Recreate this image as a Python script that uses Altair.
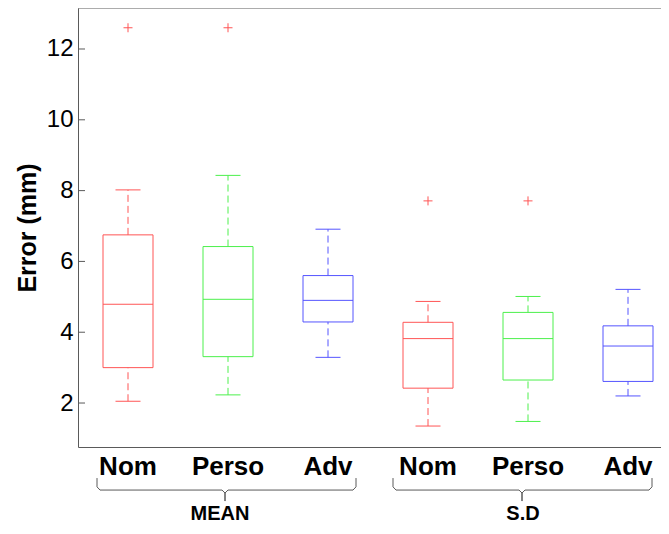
import altair as alt
import pandas as pd

# ---- data ----
positions = [1, 2, 3, 4, 5, 6]
conds = ["Nom", "Perso", "Adv", "Nom", "Perso", "Adv"]
lower = [2.05, 2.23, 3.29, 1.35, 1.48, 2.20]
q1 = [3.00, 3.31, 4.29, 2.42, 2.65, 2.61]
median = [4.79, 4.93, 4.90, 3.82, 3.82, 3.61]
q3 = [6.75, 6.42, 5.60, 4.28, 4.56, 4.18]
upper = [8.02, 8.43, 6.91, 4.87, 5.01, 5.21]

out_pos = [1, 2, 4, 5]
out_val = [12.6, 12.6, 7.71, 7.71]

y_ticks = [2, 4, 6, 8, 10, 12]
groups = ["MEAN", "S.D"]
group_label_x = [1.92, 4.95]
brace_left = [0.69, 3.65]
brace_tip = [1.97, 4.94]
brace_right = [3.28, 6.24]

cond_domain = ["Nom", "Perso", "Adv"]
cond_colors = ["#FF5555", "#4CF04C", "#5555FF"]
OUTLIER_COLOR = "#FF5555"

Y_DOMAIN = [0.758, 13.158]
X_DOMAIN = [0.5, 6.33]
PW, PH = 583, 439
FRAME = "#5a5a5a"
FONT = "Liberation Sans"

box_df = pd.DataFrame({"pos": positions, "cond": conds, "lower": lower, "q1": q1,
                       "median": median, "q3": q3, "upper": upper})
out_df = pd.DataFrame({"pos": out_pos, "val": out_val})
tick_df = pd.DataFrame({"t": y_ticks})

# brace polylines (x in data units, y in data units below the axis range)
brace_rows = []
y_top, y_mid, y_curl, y_tip = -0.119, -0.458, -0.542, -0.769
c = 0.03
for g, l, t, r in zip(groups, brace_left, brace_tip, brace_right):
    pts = [(l, y_top), (l, y_mid + 0.09), (l + c, y_mid), (t - c, y_mid), (t, y_curl), (t, y_tip),
           (t, y_curl), (t + c, y_mid), (r - c, y_mid), (r, y_mid + 0.09), (r, y_top)]
    for i, (px, py) in enumerate(pts):
        brace_rows.append({"g": g, "o": i, "bx": px, "by": py})
brace_df = pd.DataFrame(brace_rows)
group_df = pd.DataFrame({"g": groups, "gx": group_label_x})

xs = alt.Scale(domain=X_DOMAIN, nice=False, zero=False)
ys = alt.Scale(domain=Y_DOMAIN, nice=False, zero=False)
col = alt.Color("cond:N", scale=alt.Scale(domain=cond_domain, range=cond_colors), legend=None)

base = alt.Chart(box_df).transform_calculate(
    lo="datum.pos - 0.25", hi="datum.pos + 0.25",
    clo="datum.pos - 0.125", chi="datum.pos + 0.125")

xaxis = alt.Axis(labels=False, ticks=False, title=None, grid=False,
                 domainColor=FRAME, domainWidth=1)
yaxis = alt.Axis(values=y_ticks, ticks=False, tickSize=0, grid=False,
                 labelFontSize=24, labelFont=FONT, labelColor="black", labelPadding=5,
                 domainColor=FRAME, domainWidth=1,
                 title="Error (mm)", titleFont=FONT, titleFontSize=25, titleFontWeight="bold",
                 titleColor="black", titleAngle=-90, titleX=-51, titleY=219.5,
                 titleAlign="center", titleBaseline="middle")

boxes = base.mark_rect(filled=False, strokeWidth=1).encode(
    x=alt.X("lo:Q", scale=xs, axis=xaxis), x2="hi:Q",
    y=alt.Y("q1:Q", scale=ys, axis=yaxis), y2="q3:Q",
    stroke=col)
medians = base.mark_rule(strokeWidth=1).encode(
    x=alt.X("lo:Q", scale=xs), x2="hi:Q", y=alt.Y("median:Q", scale=ys), color=col)
wh_up = base.mark_rule(strokeWidth=1, strokeDash=[7, 4]).encode(
    x=alt.X("pos:Q", scale=xs), y=alt.Y("q3:Q", scale=ys), y2="upper:Q", color=col)
wh_lo = base.mark_rule(strokeWidth=1, strokeDash=[7, 4]).encode(
    x=alt.X("pos:Q", scale=xs), y=alt.Y("lower:Q", scale=ys), y2="q1:Q", color=col)
cap_up = base.mark_rule(strokeWidth=1).encode(
    x=alt.X("clo:Q", scale=xs), x2="chi:Q", y=alt.Y("upper:Q", scale=ys), color=col)
cap_lo = base.mark_rule(strokeWidth=1).encode(
    x=alt.X("clo:Q", scale=xs), x2="chi:Q", y=alt.Y("lower:Q", scale=ys), color=col)
outliers = alt.Chart(out_df).mark_point(
    shape="M-1,0L1,0M0,-1L0,1", size=81, filled=False, strokeWidth=1, opacity=1,
    color=OUTLIER_COLOR).encode(
    x=alt.X("pos:Q", scale=xs), y=alt.Y("val:Q", scale=ys))

inner_ticks = alt.Chart(tick_df).mark_rule(color=FRAME, strokeWidth=1).encode(
    y=alt.Y("t:Q", scale=ys), x=alt.value(0), x2=alt.value(7))
top_line = alt.Chart(alt.Data(values=[{"a": 1}])).mark_rule(color=FRAME, strokeWidth=1).encode(
    x=alt.value(0), x2=alt.value(PW), y=alt.value(0))

cat_text = alt.Chart(box_df).mark_text(
    font=FONT, fontSize=26, fontWeight="bold", color="black", baseline="alphabetic",
    align="center").encode(x=alt.X("pos:Q", scale=xs), y=alt.value(467), text="cond:N")

braces = alt.Chart(brace_df).mark_line(color=FRAME, strokeWidth=1).encode(
    x=alt.X("bx:Q", scale=xs), y=alt.Y("by:Q", scale=ys), detail="g:N", order="o:Q")

group_text = alt.Chart(group_df).mark_text(
    font=FONT, fontSize=20, fontWeight="bold", color="black", baseline="alphabetic",
    align="center").encode(x=alt.X("gx:Q", scale=xs), y=alt.value(512), text="g:N")

chart = alt.layer(boxes, medians, wh_up, wh_lo, cap_up, cap_lo, outliers,
                  inner_ticks, top_line, cat_text, braces, group_text).properties(
    width=PW, height=PH,
    autosize=alt.AutoSizeParams(type="none"),
    padding={"left": 70, "top": 0, "right": 0, "bottom": 79},
    background="white",
).configure_view(stroke=None)

chart.save("out.html", embed_options={"renderer": "svg", "actions": False})
